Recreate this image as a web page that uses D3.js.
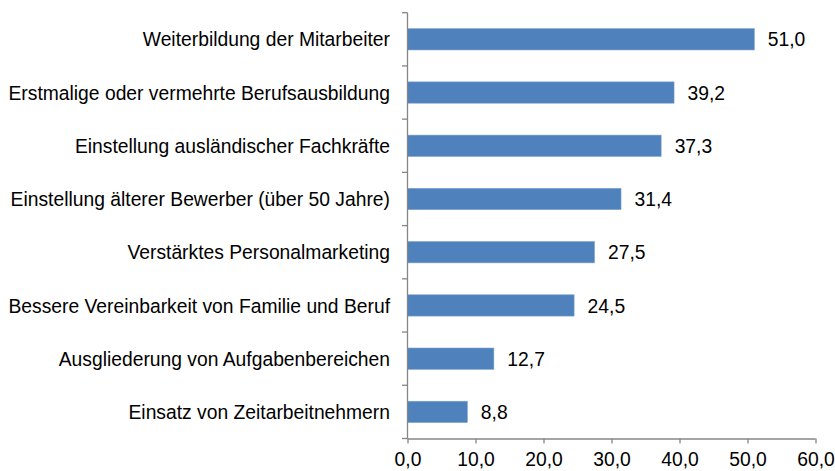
<!DOCTYPE html>
<html><head><meta charset="utf-8">
<script src="https://cdn.jsdelivr.net/npm/d3@7"></script>
<style>
html,body{margin:0;padding:0;background:#fff;}
svg{display:block;font-family:"Liberation Sans",Arial,sans-serif;}
</style></head>
<body>
<svg id="chart" width="835" height="471"></svg>
<script>
const categories = [
  "Weiterbildung der Mitarbeiter",
  "Erstmalige oder vermehrte Berufsausbildung",
  "Einstellung ausländischer Fachkräfte",
  "Einstellung älterer Bewerber (über 50 Jahre)",
  "Verstärktes Personalmarketing",
  "Bessere Vereinbarkeit von Familie und Beruf",
  "Ausgliederung von Aufgabenbereichen",
  "Einsatz von Zeitarbeitnehmern"
];
const values = [51.0, 39.2, 37.3, 31.4, 27.5, 24.5, 12.7, 8.8];
const xTicks = [0, 10, 20, 30, 40, 50, 60];

(function () {
const svg = d3.select("#chart");
const mLeft = 407.5, mRight = 815.5, mTop = 12.7, mBottom = 438.5;
const fmt = v => v.toFixed(1).replace(".", ",");
const axisColor = "#868686";
const fontSize = 19.3;

const x = d3.scaleLinear().domain([0, 60]).range([mLeft, mRight]);
const y = d3.scaleBand().domain(categories).range([mTop, mBottom])
  .paddingInner(0.6).paddingOuter(0.3);
const step = y.step();

// bars
svg.append("g").selectAll("rect").data(categories).join("rect")
  .attr("x", x(0))
  .attr("y", d => y(d))
  .attr("width", (d, i) => x(values[i]) - x(0))
  .attr("height", y.bandwidth())
  .attr("fill", "#4F81BD")
  .attr("stroke", "#7BA0CD")
  .attr("stroke-width", 0.6);

// value labels
svg.append("g").selectAll("text").data(categories).join("text")
  .attr("x", (d, i) => x(values[i]) + 13.5)
  .attr("y", d => y(d) + y.bandwidth() / 2)
  .attr("dy", "0.37em")
  .attr("font-size", fontSize)
  .attr("fill", "#000")
  .text((d, i) => fmt(values[i]));

// y axis line and boundary ticks
const gy = svg.append("g").attr("stroke", axisColor).attr("stroke-width", 1.3);
gy.append("line").attr("x1", mLeft).attr("x2", mLeft).attr("y1", mTop).attr("y2", mBottom);
const boundaries = d3.range(categories.length + 1).map(i => mTop + i * step);
gy.selectAll("line.tk").data(boundaries).join("line").attr("class", "tk")
  .attr("x1", mLeft - 5.5).attr("x2", mLeft)
  .attr("y1", d => d).attr("y2", d => d);

// category labels
svg.append("g").selectAll("text").data(categories).join("text")
  .attr("x", 390)
  .attr("y", d => y(d) + y.bandwidth() / 2)
  .attr("dy", "0.37em")
  .attr("text-anchor", "end")
  .attr("font-size", fontSize)
  .attr("fill", "#000")
  .text(d => d);

// x axis
const xAxis = d3.axisBottom(x).tickValues(xTicks).tickSize(5).tickPadding(4)
  .tickFormat(fmt);
const gx = svg.append("g").attr("transform", `translate(0,${mBottom})`).call(xAxis);
gx.select(".domain").attr("stroke", axisColor).attr("stroke-width", 1.3)
  .attr("d", `M${mLeft},0.5H${mRight}`);
gx.selectAll(".tick line").attr("stroke", axisColor).attr("stroke-width", 1.3);
gx.selectAll(".tick text").attr("font-size", fontSize).attr("fill", "#000")
  .attr("font-family", "'Liberation Sans',Arial,sans-serif").attr("y", 13.5).attr("dy", "0.71em");
})();
</script>
</body></html>
